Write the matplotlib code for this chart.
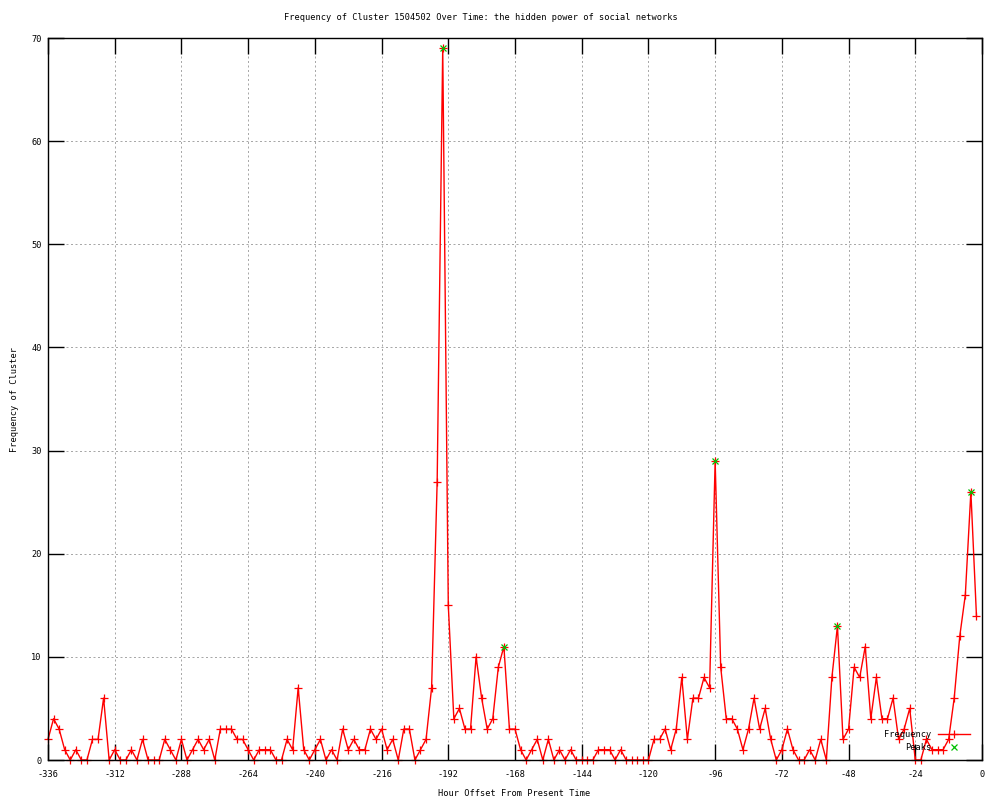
import matplotlib
matplotlib.use("Agg")

import matplotlib.pyplot as plt
import numpy as np

# hour offsets, one sample every 2 hours
hours = np.arange(-336, 0, 2)

frequency = [
    2, 4, 3, 1, 0, 1, 0, 0, 2, 2, 6, 0,          # -336 .. -314
    1, 0, 0, 1, 0, 2, 0, 0, 0, 2, 1, 0,          # -312 .. -290
    2, 0, 1, 2, 1, 2, 0, 3, 3, 3, 2, 2,          # -288 .. -266
    1, 0, 1, 1, 1, 0, 0, 2, 1, 7, 1, 0,          # -264 .. -242
    1, 2, 0, 1, 0, 3, 1, 2, 1, 1, 3, 2,          # -240 .. -218
    3, 1, 2, 0, 3, 3, 0, 1, 2, 7, 27, 69,        # -216 .. -194
    15, 4, 5, 3, 3, 10, 6, 3, 4, 9, 11, 3,       # -192 .. -170
    3, 1, 0, 1, 2, 0, 2, 0, 1, 0, 1, 0,          # -168 .. -146
    0, 0, 0, 1, 1, 1, 0, 1, 0, 0, 0, 0,          # -144 .. -122
    0, 2, 2, 3, 1, 3, 8, 2, 6, 6, 8, 7,          # -120 .. -98
    29, 9, 4, 4, 3, 1, 3, 6, 3, 5, 2, 0,         # -96 .. -74
    1, 3, 1, 0, 0, 1, 0, 2, 0, 8, 13, 2,         # -72 .. -50
    3, 9, 8, 11, 4, 8, 4, 4, 6, 2, 3, 5,         # -48 .. -26
    0, 0, 2, 1, 1, 1, 2, 6, 12, 16, 26, 14,      # -24 .. -2
]

peak_hours = [-194, -172, -96, -52, -4]
peak_values = [69, 11, 29, 13, 26]

x_ticks = np.arange(-336, 1, 24)
y_ticks = np.arange(0, 71, 10)

plt.rcParams["font.family"] = "DejaVu Sans Mono"
plt.rcParams["font.size"] = 6.2
plt.rcParams["axes.unicode_minus"] = False

fig = plt.figure(figsize=(10, 8), dpi=100)
ax = fig.add_axes([0.048, 0.05, 0.934, 0.9025])

ax.plot(hours, frequency, color="#ff0000", lw=1.0, marker="+",
        markersize=5.5, markeredgewidth=0.9, label="Frequency",
        clip_on=False, zorder=2)
ax.plot(peak_hours, peak_values, color="#00c000", lw=0, marker="x",
        markersize=4.5, markeredgewidth=0.9, label="Peaks",
        clip_on=False, zorder=3)

ax.set_xlim(-336, 0)
ax.set_ylim(0, 70)
ax.set_xticks(x_ticks)
ax.set_yticks(y_ticks)
ax.grid(True, color="#a8a8a8", linestyle=(0, (2, 2.5)), lw=0.72)
ax.set_axisbelow(True)

ax.tick_params(direction="in", length=11.5, width=1.0, top=True, right=True,
               labelsize=6.2, colors="black")
ax.tick_params(axis="x", pad=7)
ax.tick_params(axis="y", pad=4.5)
for spine in ax.spines.values():
    spine.set_linewidth(1.0)

fig.text(0.481, 1 - 18 / 800, "Frequency of Cluster 1504502 Over Time: the hidden power of social networks",
         ha="center", va="center", fontsize=6.2)
fig.text(0.514, 1 - 793 / 800, "Hour Offset From Present Time",
         ha="center", va="center", fontsize=6.2)
fig.text(0.015, 0.5, "Frequency of Cluster", rotation=90,
         ha="center", va="center", fontsize=6.2)

ax.legend(loc="lower right", bbox_to_anchor=(0.987, 0.011), frameon=False,
          markerfirst=False, numpoints=1, handlelength=3.7, handletextpad=0.8,
          borderpad=0, borderaxespad=0, labelspacing=0.5, fontsize=6.2)

fig.savefig("out.png", dpi=100)
plt.close(fig)
